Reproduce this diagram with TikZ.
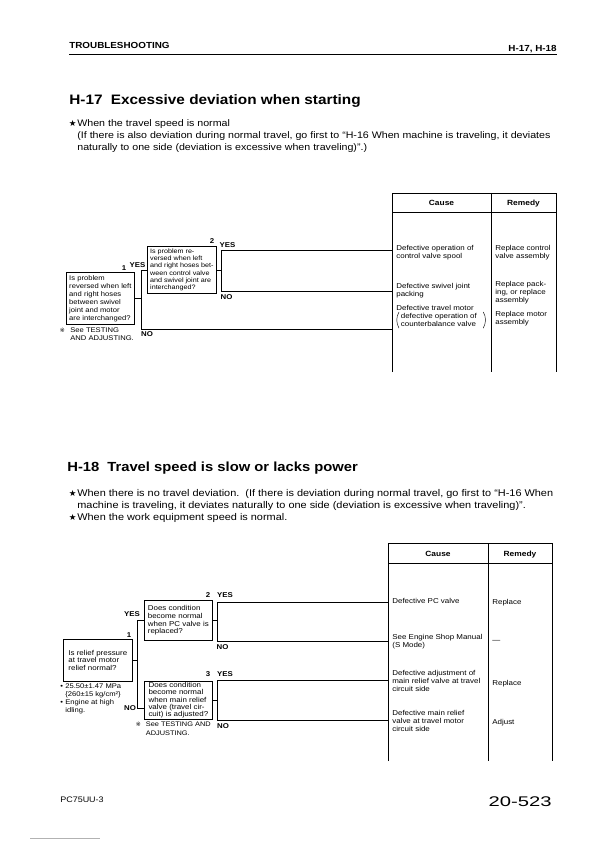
\documentclass[tikz,border=0pt]{standalone}
\usepackage{fontspec}
\setmainfont{Liberation Sans}[FakeStretch=1.12]
\newfontfamily\symfont{DejaVu Sans}
\usetikzlibrary{positioning}

\newcommand{\kstar}{{\symfont\fontsize{8.5}{8.5}\selectfont ★}}
\newcommand{\kref}{{\symfont\fontsize{6}{6}\selectfont ※}}

\begin{document}
\begin{tikzpicture}[x=1pt, y=-1pt, line width=0.7pt]
\tikzset{
  headtxt/.style = {font=\bfseries\fontsize{8.8}{10}\selectfont, inner sep=0pt, anchor=base west},
  titletxt/.style = {font=\bfseries\fontsize{13.7}{15}\selectfont, inner sep=0pt, anchor=base west},
  bodytxt/.style = {font=\fontsize{9.5}{12}\selectfont, inner sep=0pt, anchor=base west},
  qbox/.style = {rectangle, draw, align=left, inner xsep=0pt, inner ysep=0.6pt, anchor=north west, font=\fontsize{7.1}{7.7}\selectfont},
  celltxt/.style = {align=left, inner sep=0pt, anchor=north west, font=\fontsize{7.1}{7.8}\selectfont},
  colhead/.style = {font=\bfseries\fontsize{7.5}{9}\selectfont, inner sep=0pt, anchor=base},
  answer/.style = {font=\bfseries\fontsize{7}{8}\selectfont, inner sep=0pt, anchor=base},
  notetxt/.style = {font=\fontsize{6.8}{8}\selectfont, inner sep=0pt, anchor=base west},
  link/.style = {draw, line width=0.7pt},
  tableline/.style = {draw, line width=0.7pt},
  paren/.style = {draw, line width=0.45pt}
}
\useasboundingbox[fill=white] (0,0) rectangle (593,842);

% page header
\node[headtxt] (hdr) at (69,49) {TROUBLESHOOTING};
\node[headtxt, anchor=base east] (hdrno) at (557,52) {H-17, H-18};
\draw[line width=0.9pt] (69,54) -- (557,54);

% H-17
\node[titletxt] (t17) at (69,105) {H-17\hspace{0.6em}Excessive deviation when starting};
\node[bodytxt] (s17star) at (68.5,127) {\kstar};
\node[bodytxt] (s17a) at (77,127) {When the travel speed is normal};
\node[bodytxt] (s17b) at (77,139) {(If there is also deviation during normal travel, go first to “H-16 When machine is traveling, it deviates};
\node[bodytxt] (s17c) at (77,151) {naturally to one side (deviation is excessive when traveling)”.)};

\node[qbox, font=\fontsize{6.8}{8}\selectfont, minimum width=68pt, minimum height=52pt] (q17a) at (66,272) {Is problem\\reversed when left\\and right hoses\\between swivel\\joint and motor\\are interchanged?};
\node[qbox, font=\fontsize{6.4}{7.3}\selectfont, minimum width=69pt, minimum height=47pt] (q17b) at (147,246) {Is problem re-\\versed when left\\and right hoses bet-\\ween control valve\\and swivel joint are\\interchanged?};

\node[answer] (n17a) at (124,270.5) {1};
\node[answer] (y17a) at (137.5,267.5) {YES};
\node[answer] (no17a) at (147,336.5) {NO};
\node[answer] (n17b) at (212,243.5) {2};
\node[answer] (y17b) at (227.5,247.5) {YES};
\node[answer] (no17b) at (226.5,299.5) {NO};

\node[notetxt] (ref17) at (59.5,332.5) {\kref};
\node[notetxt] (see17a) at (70,332.5) {See TESTING};
\node[notetxt] (see17b) at (70,340.5) {AND ADJUSTING.};

% H-17 table
\draw[tableline] (392,372) -- (392,193) -- (556,193) -- (556,372);
\draw[tableline] (491,193) -- (491,372);
\draw[tableline] (392,212) -- (556,212);
\node[colhead] (cause17) at (441.5,205.7) {Cause};
\node[colhead] (rem17) at (523.5,205.7) {Remedy};

\node[celltxt] (c17a) at (396,245) {Defective operation of\\control valve spool};
\node[celltxt] (c17b) at (396,283) {Defective swivel joint\\packing};
\node[celltxt] (c17c) at (396,305) {Defective travel motor};
\node[celltxt] (c17d) at (400.5,313) {defective operation of\\counterbalance valve};
\path[paren] ([xshift=-1.5pt,yshift=1pt]c17d.north west) .. controls ([xshift=-4.5pt,yshift=-4pt]c17d.north west) and ([xshift=-4.5pt,yshift=4pt]c17d.south west) .. ([xshift=-1.5pt,yshift=-1.5pt]c17d.south west);
\path[paren] ([xshift=6pt,yshift=1pt]c17d.north east) .. controls ([xshift=9pt,yshift=-4pt]c17d.north east) and ([xshift=9pt,yshift=4pt]c17d.south east) .. ([xshift=6pt,yshift=-1.5pt]c17d.south east);
\node[celltxt] (r17a) at (495,245) {Replace control\\valve assembly};
\node[celltxt] (r17b) at (495,281) {Replace pack-\\ing, or replace\\assembly};
\node[celltxt] (r17c) at (495,311) {Replace motor\\assembly};

\coordinate (in17a) at (392,250);
\coordinate (in17b) at (392,291);
\coordinate (in17c) at (392,329);

\path[link] (q17b.east) -- ++(5,0) coordinate (j17b);
\path[link] (in17a) -| (j17b) |- (in17b);
\path[link] (q17b.west) -- ++(-6,0) coordinate (j17a) |- (in17c);
\path[link] (q17a.east) -- (q17a.east -| j17a);

% H-18
\node[titletxt, font=\bfseries\fontsize{13.2}{15}\selectfont] (t18) at (67,471) {H-18\hspace{0.6em}Travel speed is slow or lacks power};
\node[bodytxt] (s18star) at (68.5,496) {\kstar};
\node[bodytxt, font=\fontsize{9.75}{12}\selectfont] (s18a) at (77,496) {When there is no travel deviation.\ \ (If there is deviation during normal travel, go first to “H-16 When};
\node[bodytxt, font=\fontsize{9.75}{12}\selectfont] (s18b) at (77,508) {machine is traveling, it deviates naturally to one side (deviation is excessive when traveling)”.};
\node[bodytxt] (s18star2) at (68.5,520) {\kstar};
\node[bodytxt, font=\fontsize{9.75}{12}\selectfont] (s18c) at (77,520) {When the work equipment speed is normal.};

\node[qbox, minimum width=69pt, minimum height=42pt] (q18a) at (63,639) {Is relief pressure\\at travel motor\\relief normal?};
\node[qbox, minimum width=68pt, minimum height=40pt] (q18b) at (144,600) {Does condition\\become normal\\when PC valve is\\replaced?};
\node[qbox, font=\fontsize{7.1}{7.3}\selectfont, minimum width=68pt, minimum height=38pt] (q18c) at (144,681) {Does condition\\become normal\\when main relief\\valve (travel cir-\\cuit) is adjusted?};

\node[answer] (n18a) at (129,637.5) {1};
\node[answer] (y18a) at (132,616.5) {YES};
\node[answer] (no18a) at (130,710.5) {NO};
\node[answer] (n18b) at (208,597.5) {2};
\node[answer] (y18b) at (225,597.5) {YES};
\node[answer] (no18b) at (222.5,649.5) {NO};
\node[answer] (n18c) at (208,676.5) {3};
\node[answer] (y18c) at (225,676.5) {YES};
\node[answer] (no18c) at (223,728.5) {NO};

\node[notetxt] (b18a) at (60,688.5) {•};
\node[notetxt] (p18a) at (65,688.5) {25.50±1.47 MPa};
\node[notetxt] (p18b) at (65,696.5) {\{260±15 kg/cm²\}};
\node[notetxt] (b18b) at (60,704.5) {•};
\node[notetxt] (p18c) at (65,704.5) {Engine at high};
\node[notetxt] (p18d) at (65,712.5) {idling.};
\node[notetxt] (ref18) at (135.5,726.5) {\kref};
\node[notetxt, font=\fontsize{6.6}{8}\selectfont] (see18a) at (145.5,726.5) {See TESTING AND};
\node[notetxt, font=\fontsize{6.6}{8}\selectfont] (see18b) at (145.5,735.5) {ADJUSTING.};

% H-18 table
\draw[tableline] (388,761) -- (388,543) -- (552,543) -- (552,761);
\draw[tableline] (488,543) -- (488,761);
\draw[tableline] (388,563) -- (552,563);
\node[colhead] (cause18) at (438,556) {Cause};
\node[colhead] (rem18) at (520,556) {Remedy};

\node[celltxt] (c18a) at (392,598) {Defective PC valve};
\node[celltxt] (c18b) at (392,634) {See Engine Shop Manual\\(S Mode)};
\node[celltxt] (c18c) at (392,670) {Defective adjustment of\\main relief valve at travel\\circuit side};
\node[celltxt] (c18d) at (392,710) {Defective main relief\\valve at travel motor\\circuit side};
\node[celltxt] (r18a) at (492,599) {Replace};
\node[celltxt, anchor=west] (r18b) at (492,641) {\textemdash};
\node[celltxt] (r18c) at (492,679.5) {Replace};
\node[celltxt] (r18d) at (492,719) {Adjust};

\coordinate (in18a) at (388,602);
\coordinate (in18b) at (388,641);
\coordinate (in18c) at (388,680);
\coordinate (in18d) at (388,720);

\path[link] (q18b.east) -- ++(5,0) coordinate (j18b);
\path[link] (in18a) -| (j18b) |- (in18b);
\path[link] (q18c.east) -- ++(5,0) coordinate (j18c);
\path[link] (in18c) -| (j18c) |- (in18d);
\path[link] (q18b.west) -- ++(-7,0) coordinate (j18a) |- ([yshift=-8pt]q18c.west);
\path[link] (q18a.east) -- (q18a.east -| j18a);

% page footer
\node[font=\fontsize{8}{9}\selectfont, inner sep=0pt, anchor=base west] (model) at (60,802.5) {PC75UU-3};
\node[font=\fontsize{14}{16}\selectfont, inner sep=0pt, anchor=base east] (pageno) at (552,806) {\scalebox{1.29}[1]{20-523}};
\draw[gray!60, line width=0.8pt] (30,838) -- (100,838);
\end{tikzpicture}
\end{document}
